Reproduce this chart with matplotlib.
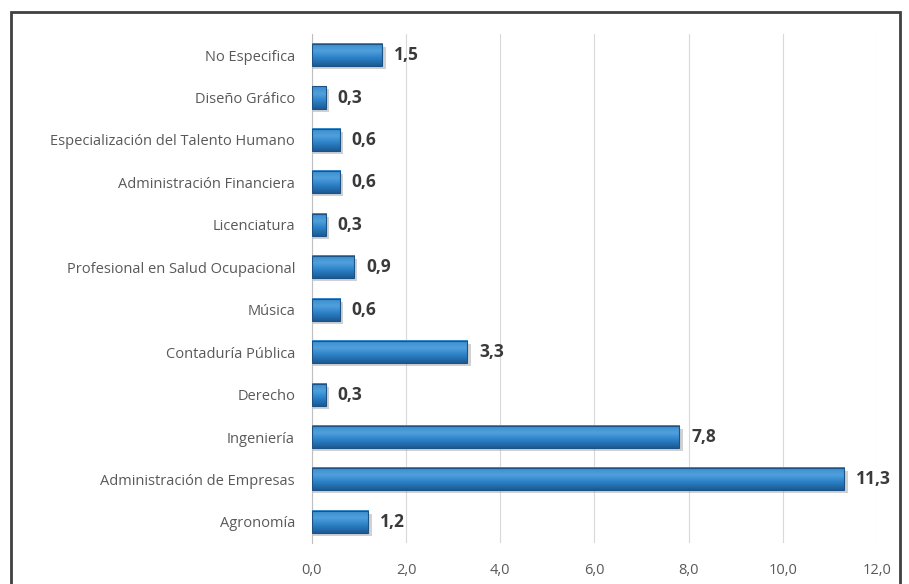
import matplotlib
matplotlib.use("Agg")
import matplotlib.pyplot as plt
import numpy as np
from matplotlib.patches import Rectangle
from matplotlib.colors import LinearSegmentedColormap

categories = ["Agronomía", "Administración de Empresas", "Ingeniería", "Derecho",
              "Contaduría Pública", "Música", "Profesional en Salud Ocupacional",
              "Licenciatura", "Administración Financiera",
              "Especialización del Talento Humano", "Diseño Gráfico", "No Especifica"]
values = [1.2, 11.3, 7.8, 0.3, 3.3, 0.6, 0.9, 0.3, 0.6, 0.6, 0.3, 1.5]
xticks = [0, 2, 4, 6, 8, 10, 12]

plt.rcParams['font.family'] = ['Open Sans', 'DejaVu Sans']

fig = plt.figure(figsize=(9.09, 5.84), dpi=100)
ax = fig.add_axes([0.343, 0.070, 0.622, 0.872])

ypos = list(range(len(categories)))
h = 0.52
# shadow
ax.barh([y - 0.07 for y in ypos], [v + 0.07 for v in values], height=h,
        color='#9a9a9a', alpha=0.45, zorder=2, linewidth=0)
bars = ax.barh(ypos, values, height=h, color='none',
               edgecolor='#1d5284', linewidth=0.8, zorder=4)

cmap = LinearSegmentedColormap.from_list('bar', ['#1c5a94', '#2a7fc4', '#4fa0dc', '#3a8ccd'])
grad = np.linspace(0, 1, 64).reshape(-1, 1)
for b in bars:
    x0, y0 = b.get_x(), b.get_y()
    w, hh = b.get_width(), b.get_height()
    ax.imshow(grad, cmap=cmap, aspect='auto', origin='lower',
              extent=(x0, x0 + w, y0, y0 + hh), zorder=3, interpolation='bilinear')

for y, v in zip(ypos, values):
    ax.text(v + 0.25, y, f"{v:.1f}".replace('.', ','), va='center', ha='left',
            fontsize=12.5, fontweight='bold', color='#3a3a3a', zorder=5)

ax.set_xlim(0, 12)
ax.set_ylim(-0.5, len(categories) - 0.5)
ax.set_aspect('auto')
ax.set_xticks(xticks)
ax.set_xticklabels([f"{t:.1f}".replace('.', ',') for t in xticks], fontsize=10.5, color='#595959')
ax.set_yticks(ypos)
ax.set_yticklabels(categories, fontsize=10.5, color='#595959')
ax.tick_params(axis='x', length=0, pad=14)
ax.tick_params(axis='y', length=0, pad=12)
ax.grid(axis='x', color='#d9d9d9', linewidth=0.8, zorder=0)
ax.set_axisbelow(True)
for s in ['top', 'right', 'bottom']:
    ax.spines[s].set_visible(False)
ax.spines['left'].set_color('#bfbfbf')

fig.patches.append(Rectangle((0.012, -0.05), 0.978, 1.03, transform=fig.transFigure,
                             fill=False, edgecolor='#404040', linewidth=2))

fig.savefig("out.png", dpi=100)
